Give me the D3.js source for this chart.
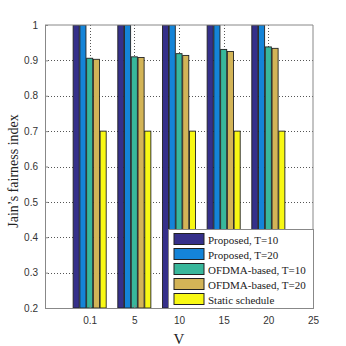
<!DOCTYPE html>
<html>
<head>
<meta charset="utf-8">
<script src="https://cdn.jsdelivr.net/npm/d3@7"></script>
<style>
  body { margin: 0; background: #fff; }
  .tick text { font-family: "Liberation Sans", Arial, sans-serif; font-size: 10px; fill: #333; }
</style>
</head>
<body>
<div id="chart"></div>
<script>
var width = 346;
var height = 346;
var margin = { left: 45, top: 25, right: 33, bottom: 38 };

// data
var groups = [1, 2, 3, 4, 5];
var xTickLabels = ["0.1", "5", "10", "15", "20", "25"];
var seriesNames = ["Proposed, T=10", "Proposed, T=20", "OFDMA-based, T=10", "OFDMA-based, T=20", "Static schedule"];
var proposed10 = [1, 1, 1, 1, 1];
var proposed20 = [1, 1, 1, 1, 1];
var ofdma10 = [0.906, 0.910, 0.919, 0.931, 0.938];
var ofdma20 = [0.903, 0.908, 0.914, 0.925, 0.934];
var staticSched = [0.70, 0.70, 0.70, 0.70, 0.70];
var yTicks = [0.2, 0.3, 0.4, 0.5, 0.6, 0.7, 0.8, 0.9, 1];

var colors = ["#35308a", "#1484d8", "#38b79b", "#d3b457", "#f8f813"];
var allSeries = [proposed10, proposed20, ofdma10, ofdma20, staticSched];

var svg = d3.select("#chart")
            .append("svg")
            .attr("width", width)
            .attr("height", height)
            .style("background", "#fff");

var xScale = d3.scaleLinear()
               .domain([0, 6])
               .range([margin.left, width - margin.right]);
var yScale = d3.scaleLinear()
               .domain([0.2, 1])
               .range([height - margin.bottom, margin.top]);

var slot = d3.scaleBand()
             .domain(d3.range(seriesNames.length))
             .range([-0.37, 0.37])
             .paddingInner(0.1);

svg.append("defs").append("clipPath")
   .attr("id", "plotclip")
   .append("rect")
   .attr("x", xScale(0)).attr("y", yScale(1))
   .attr("width", xScale(6) - xScale(0))
   .attr("height", yScale(0.2) - yScale(1));

// grid
var grid = svg.append("g").attr("class", "grid");
grid.selectAll("line.h")
    .data(yTicks.slice(1, -1))
    .enter().append("line")
    .attr("x1", xScale(0)).attr("x2", xScale(6))
    .attr("y1", function(d){ return Math.round(yScale(d)) + 0.5; })
    .attr("y2", function(d){ return Math.round(yScale(d)) + 0.5; })
    .attr("stroke", "#555").attr("stroke-width", 1)
    .attr("stroke-dasharray", "1,2");
grid.selectAll("line.v")
    .data(groups)
    .enter().append("line")
    .attr("y1", yScale(0.2)).attr("y2", yScale(1))
    .attr("x1", function(d){ return Math.round(xScale(d)) + 0.5; })
    .attr("x2", function(d){ return Math.round(xScale(d)) + 0.5; })
    .attr("stroke", "#555").attr("stroke-width", 1)
    .attr("stroke-dasharray", "1,2");

// bars
var barsG = svg.append("g").attr("clip-path", "url(#plotclip)");
allSeries.forEach(function(values, s){
  barsG.selectAll("rect.s" + s)
       .data(values)
       .enter().append("rect")
       .attr("class", "s" + s)
       .attr("x", function(d, i){ return xScale(groups[i] + slot(s)); })
       .attr("width", xScale(slot.bandwidth()) - xScale(0))
       .attr("y", function(d){ return yScale(d); })
       .attr("height", function(d){ return yScale(0.2) - yScale(d); })
       .attr("fill", colors[s])
       .attr("stroke", "#222")
       .attr("stroke-width", 0.9);
});

// axes
var yAxis = d3.axisLeft(yScale)
              .tickValues(yTicks)
              .tickSize(-3)
              .tickPadding(7)
              .tickFormat(function(d){ return d3.format("")(+d.toFixed(1)); });
var xAxis = d3.axisBottom(xScale)
              .tickValues([1, 2, 3, 4, 5, 6])
              .tickSize(-3)
              .tickPadding(9)
              .tickFormat(function(d, i){ return xTickLabels[i]; });

svg.append("g")
   .attr("transform", "translate(" + margin.left + ",0)")
   .call(yAxis)
   .call(function(g){
     g.select(".domain").attr("stroke", "#888");
     g.selectAll(".tick line").attr("stroke", "#888");
   });
svg.append("g")
   .attr("transform", "translate(0," + (height - margin.bottom) + ")")
   .call(xAxis)
   .call(function(g){
     g.select(".domain").attr("stroke", "#888");
     g.selectAll(".tick line").attr("stroke", "#888");
   });

// top and right box edges
svg.append("line")
   .attr("x1", xScale(0)).attr("x2", xScale(6))
   .attr("y1", yScale(1)).attr("y2", yScale(1))
   .attr("stroke", "#888");
svg.append("line")
   .attr("x1", xScale(6)).attr("x2", xScale(6))
   .attr("y1", yScale(1)).attr("y2", yScale(0.2))
   .attr("stroke", "#888");

// axis titles
svg.append("text")
   .attr("x", xScale(3))
   .attr("y", 344)
   .attr("text-anchor", "middle")
   .style("font-family", "'Liberation Serif', 'Times New Roman', serif")
   .style("font-size", "15px")
   .attr("fill", "#222")
   .text("V");
svg.append("text")
   .attr("transform", "translate(18," + 171 + ") rotate(-90)")
   .attr("text-anchor", "middle")
   .style("font-family", "'Liberation Serif', 'Times New Roman', serif")
   .style("font-size", "14px")
   .attr("fill", "#222")
   .text("Jain\u2019s fairness index");

// legend
var legend = svg.append("g").attr("transform", "translate(168,229)");
legend.append("rect")
      .attr("x", 0.5).attr("y", 0.5)
      .attr("width", 145).attr("height", 79)
      .attr("fill", "#fff")
      .attr("stroke", "#888");
var items = legend.selectAll("g.item")
                  .data(seriesNames)
                  .enter().append("g")
                  .attr("transform", function(d, i){ return "translate(0," + (4.5 + i * 15) + ")"; });
items.append("rect")
     .attr("x", 6).attr("y", 0)
     .attr("width", 30).attr("height", 11)
     .attr("fill", function(d, i){ return colors[i]; })
     .attr("stroke", "#222");
items.append("text")
     .attr("x", 40).attr("y", 10)
     .style("font-family", "'Liberation Serif', 'Times New Roman', serif")
     .style("font-size", "11px")
     .attr("fill", "#222")
     .text(function(d){ return d; });
</script>
</body>
</html>
